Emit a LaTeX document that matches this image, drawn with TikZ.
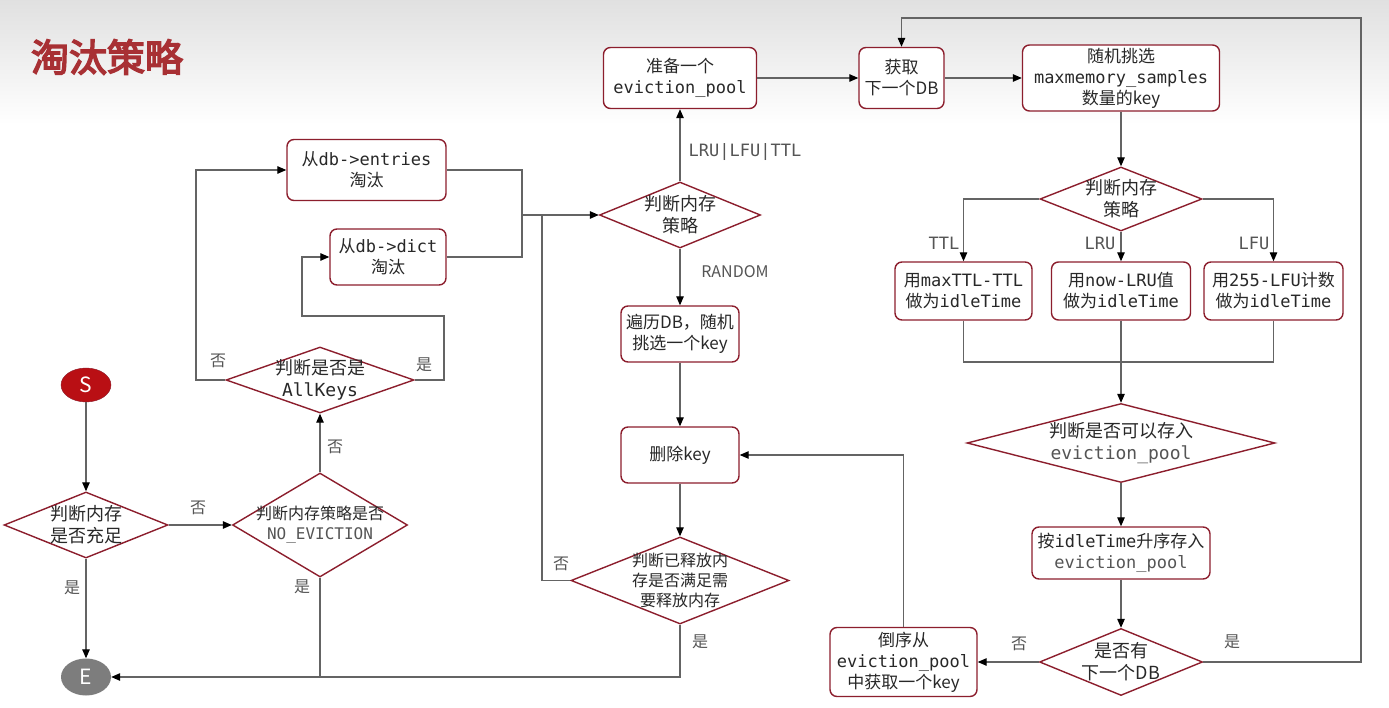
\documentclass[tikz,border=0pt]{standalone}
\usepackage{fontspec}
\setmainfont{Noto Sans CJK SC}
\setmonofont{DejaVu Sans Mono}
\newfontfamily\titlefont{Noto Sans CJK SC}[FakeBold=4]
\usepackage{tikz}
\usetikzlibrary{shapes.geometric, arrows.meta}
\definecolor{boxred}{RGB}{140,30,45}
\definecolor{startred}{RGB}{185,15,20}
\definecolor{endgray}{RGB}{125,125,125}
\definecolor{linegray}{RGB}{100,100,100}
\definecolor{lblgray}{RGB}{85,85,85}
\definecolor{textgray}{RGB}{40,40,40}
\definecolor{titlered}{RGB}{168,48,52}
\newcommand{\mo}[1]{{\ttfamily #1}}

\begin{document}
\begin{tikzpicture}[
        x=1pt, y=-1pt,
        font=\fontsize{17}{21}\selectfont,
        proc/.style = {draw=boxred, fill=white, rectangle, rounded corners=7pt, line width=1.4pt, align=center, inner sep=1pt, text=textgray},
        dec/.style = {draw=boxred, fill=white, diamond, line width=1.4pt, inner sep=0pt},
        dtext/.style = {align=center, text=textgray, font=\fontsize{18}{22}\selectfont},
        dsmall/.style = {align=center, text=textgray, font=\fontsize{16}{20}\selectfont},
        term/.style = {ellipse, inner sep=0pt, minimum width=50pt, text=white, font=\fontsize{21}{24}\selectfont},
        lbl/.style = {text=lblgray, font=\fontsize{16}{19}\selectfont, inner sep=1pt},
        line/.style = {draw=linegray, line width=1.2pt},
        arrow/.style = {line, -{Triangle[length=9pt, width=7.5pt, color=black]}}
    ]

        % Page and header
        \useasboundingbox (0,0) rectangle (1389,708);
        \fill [white] (0,0) rectangle (1389,708);
        \shade [top color=black!12, bottom color=white] (0,0) rectangle (1389,125);
        \node (title) [font=\titlefont\fontsize{38}{40}\selectfont, text=titlered] at (107,57) {淘汰策略};

        % Left column
        \node (S) [term, fill=startred, draw=boxred, minimum height=34pt] at (86,385) {S};
        \node (E) [term, fill=endgray, minimum height=37pt] at (86,677) {E};
        \node (d1) [dec, minimum width=164pt, minimum height=66pt, label={[dtext]center:{判断内存\\是否充足}}] at (86,525) {};
        \node (d2) [dec, minimum width=175pt, minimum height=104pt, label={[dsmall]center:{判断内存策略是否\\{\color{lblgray}\mo{NO\_EVICTION}}}}] at (320,525) {};
        \node (d3) [dec, minimum width=188pt, minimum height=66pt, label={[dtext]center:{判断是否是\\\mo{AllKeys}}}] at (320,380) {};
        \node (b_entries) [proc, minimum width=159pt, minimum height=61pt] at (366.5,170) {从\mo{db->entries}\\淘汰};
        \node (b_dict) [proc, minimum width=116pt, minimum height=56pt] at (388,257) {从\mo{db->dict}\\淘汰};

        % Middle column
        \node (d4) [dec, minimum width=161pt, minimum height=66pt, label={[dtext]center:{判断内存\\策略}}] at (680,215) {};
        \node (b_pool) [proc, minimum width=153pt, minimum height=61pt] at (680,78) {准备一个\\\mo{eviction\_pool}};
        \node (b_rand) [proc, minimum width=118pt, minimum height=56pt] at (680,334) {遍历DB，随机\\挑选一个key};
        \node (b_del) [proc, minimum width=118pt, minimum height=56pt] at (680,455) {删除key};
        \node (d5) [dec, minimum width=218pt, minimum height=87pt, label={[dsmall]center:{判断已释放内\\存是否满足需\\要释放内存}}] at (680,580.5) {};

        % Right column
        \node (b_next) [proc, minimum width=85pt, minimum height=61pt] at (901.5,78) {获取\\下一个DB};
        \node (b_sample) [proc, minimum width=197pt, minimum height=66pt] at (1121,78) {随机挑选\\\mo{maxmemory\_samples}\\数量的key};
        \node (d6) [dec, minimum width=162pt, minimum height=64pt, label={[dtext]center:{判断内存\\策略}}] at (1121,199) {};
        \node (b_ttl) [proc, minimum width=137pt, minimum height=58pt] at (963.5,291) {用\mo{maxTTL-TTL}\\做为\mo{idleTime}};
        \node (b_lru) [proc, minimum width=139pt, minimum height=58pt] at (1121,291) {用\mo{now-LRU}值\\做为\mo{idleTime}};
        \node (b_lfu) [proc, minimum width=139pt, minimum height=58pt] at (1273.5,291) {用\mo{255-LFU}计数\\做为\mo{idleTime}};
        \node (d8) [dec, minimum width=308pt, minimum height=79pt, label={[dtext]center:{判断是否可以存入\\{\color{lblgray}\mo{eviction\_pool}}}}] at (1121,443) {};
        \node (b_sort) [proc, minimum width=178pt, minimum height=52pt] at (1121,553) {按\mo{idleTime}升序存入\\{\color{lblgray}\mo{eviction\_pool}}};
        \node (d7) [dec, minimum width=163pt, minimum height=67pt, label={[dtext]center:{是否有\\下一个DB}}] at (1121,662) {};
        \node (b_rev) [proc, minimum width=147pt, minimum height=69pt] at (903.5,662) {倒序从\\\mo{eviction\_pool}\\中获取一个key};

        % Junction points
        \coordinate (lp) at (196,170);
        \coordinate (rp1) at (444,316);
        \coordinate (rp2) at (302,316);
        \coordinate (mj) at (522,215);
        \coordinate (mj2) at (542,215);
        \coordinate (rj) at (1121,362);
        \coordinate (tr) at (1361,18);

        % Arrows, left
        \draw [arrow] (S) -- (d1);
        \draw [arrow] (d1) -- (d2);
        \draw [arrow] (d1) -- (E);
        \draw [arrow] (d2) -- (d3);
        \draw [arrow] (d3.west) -| (lp) -- (b_entries.west);
        \draw [arrow] (d3.east) -| (rp1) -- (rp2) |- (b_dict.west);
        \draw [line] (d2.south) -- (d2.south |- E.east);

        % Arrows, middle
        \draw [line] (b_entries.east) -| (mj);
        \draw [line] (b_dict.east) -| (mj);
        \draw [arrow] (mj) -- (d4.west);
        \draw [line] (d5.west) -| (mj2);
        \draw [arrow] (d4) -- (b_pool);
        \draw [arrow] (d4) -- (b_rand);
        \draw [arrow] (b_rand) -- (b_del);
        \draw [arrow] (b_del) -- (d5);
        \draw [arrow] (d5.south) |- (E.east);

        % Arrows, right
        \draw [arrow] (b_pool) -- (b_next);
        \draw [arrow] (b_next) -- (b_sample);
        \draw [arrow] (b_sample) -- (d6);
        \draw [arrow] (d6.west) -| (b_ttl.north);
        \draw [arrow] (d6) -- (b_lru);
        \draw [arrow] (d6.east) -| (b_lfu.north);
        \draw [line] (b_ttl.south) |- (rj);
        \draw [line] (b_lfu.south) |- (rj);
        \draw [arrow] (b_lru.south) -- (d8.north);
        \draw [arrow] (d8) -- (b_sort);
        \draw [arrow] (b_sort) -- (d7);
        \draw [arrow] (d7) -- (b_rev);
        \draw [arrow] (d7.east) -| (tr) -| (b_next.north);
        \draw [arrow] (b_rev.north) |- (b_del.east);

        % Branch labels
        \node (noA) [lbl] at (198,508) {否};
        \node (yesA) [lbl] at (72,588) {是};
        \node (noB) [lbl] at (335,447) {否};
        \node (yesB) [lbl] at (302,587) {是};
        \node (noC) [lbl] at (218,361) {否};
        \node (yesC) [lbl] at (424,365) {是};
        \node (noD) [lbl] at (561,564) {否};
        \node (yesD) [lbl] at (700,642) {是};
        \node (lblPool) [lbl, font=\fontsize{17}{20}\selectfont] at (745,152) {\mo{LRU|LFU|TTL}};
        \node (lblRand) [lbl] at (735,272) {RANDOM};
        \node (lblTtl) [lbl, font=\fontsize{17}{20}\selectfont] at (944,243) {\mo{TTL}};
        \node (lblLru) [lbl, font=\fontsize{17}{20}\selectfont] at (1100,243) {\mo{LRU}};
        \node (lblLfu) [lbl, font=\fontsize{17}{20}\selectfont] at (1254,243) {\mo{LFU}};
        \node (noE) [lbl] at (1019,644) {否};
        \node (yesE) [lbl] at (1232,642) {是};

    \end{tikzpicture}
\end{document}
